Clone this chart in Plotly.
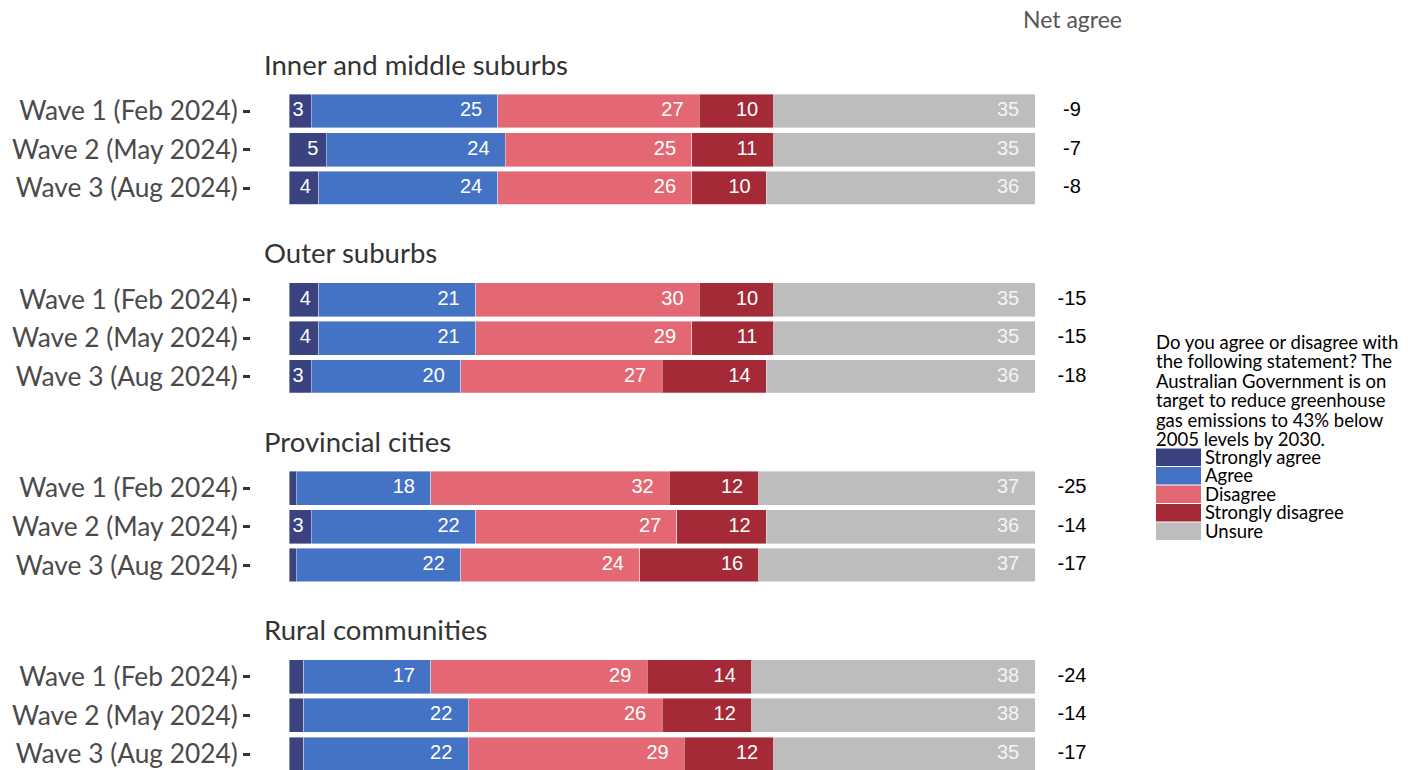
import plotly.graph_objects as go
from plotly.subplots import make_subplots

# ---------------- data ----------------
regions = ["Inner and middle suburbs", "Outer suburbs", "Provincial cities", "Rural communities"]
waves = ["Wave 1 (Feb 2024)", "Wave 2 (May 2024)", "Wave 3 (Aug 2024)"]
responses = ["Strongly agree", "Agree", "Disagree", "Strongly disagree", "Unsure"]

strongly_agree = [[3, 5, 4], [4, 4, 3], [1, 3, 1], [2, 2, 2]]
agree = [[25, 24, 24], [21, 21, 20], [18, 22, 22], [17, 22, 22]]
disagree = [[27, 25, 26], [30, 29, 27], [32, 27, 24], [29, 26, 29]]
strongly_disagree = [[10, 11, 10], [10, 11, 14], [12, 12, 16], [14, 12, 12]]
unsure = [[35, 35, 36], [35, 35, 36], [37, 36, 37], [38, 38, 35]]

legend_title = ["Do you agree or disagree with", "the following statement? The",
                "Australian Government is on", "target to reduce greenhouse",
                "gas emissions to 43% below", "2005 levels by 2030."]

# ---------------- style ----------------
colors = ["#3a4380", "#4472c4", "#e46874", "#a52a37", "#bdbdbd"]
label_colors = ["white", "white", "white", "white", "#f4f4f4"]
W, H = 1413, 770
OFF = 8  # page body margin offset
SANS = "Lato, 'Open Sans', sans-serif"
NUM = "'Liberation Sans', Arial, sans-serif"


def px_x(v):
    return (v - OFF) / W


def px_y(v):
    return 1 - (v - OFF) / H


series = [strongly_agree, agree, disagree, strongly_disagree, unsure]

fig = make_subplots(rows=4, cols=1)

row_pitch = 38.6
facet_pitch = 188.6
first_center = 111
px_per_unit_x = 7.46
bar_left_px = 289
x_dom_left, x_dom_right = 251, 1130
x_range = [-(bar_left_px - x_dom_left) / px_per_unit_x, (x_dom_right - bar_left_px) / px_per_unit_x]
net_x = (1072 - bar_left_px) / px_per_unit_x

for k, region in enumerate(regions):
    r = k + 1
    for j, resp in enumerate(responses):
        fig.add_trace(go.Bar(
            x=series[j][k], y=waves, orientation="h", name=resp,
            marker=dict(color=colors[j], line=dict(color="white", width=0.4)),
            width=0.88, showlegend=False, hoverinfo="x+name",
        ), row=r, col=1)

    # segment labels (right side of each segment)
    lx, ly, lt, lc = [], [], [], []
    for i, w in enumerate(waves):
        cum = 0
        for j in range(len(responses)):
            v = series[j][k][i]
            cum += v
            if v >= 3:
                s = str(v)
                lx.append(cum - 1.8 * len(s))
                ly.append(w)
                lt.append(s)
                lc.append(label_colors[j])
    fig.add_trace(go.Scatter(
        x=lx, y=ly, text=lt, mode="text", textposition="middle center",
        textfont=dict(family=NUM, size=20, color=lc), showlegend=False, hoverinfo="skip",
    ), row=r, col=1)

    # net agree
    net = [strongly_agree[k][i] + agree[k][i] - disagree[k][i] - strongly_disagree[k][i]
           for i in range(len(waves))]
    fig.add_trace(go.Scatter(
        x=[net_x] * len(waves), y=waves, text=[str(n) for n in net], mode="text",
        textposition="middle center", textfont=dict(family=NUM, size=20, color="black"),
        showlegend=False, hoverinfo="skip",
    ), row=r, col=1)

    c0 = first_center + facet_pitch * k
    top = c0 - 27
    bottom = c0 + 2 * row_pitch + 16
    ysuffix = "" if r == 1 else str(r)
    fig.layout["yaxis" + ysuffix].update(
        domain=[max(0, px_y(bottom)), min(1, px_y(top))],
        range=[2 + 16 / row_pitch, -27 / row_pitch],
        type="category", categoryorder="array", categoryarray=waves,
        showgrid=False, zeroline=False, showline=False,
        ticks="outside", ticklen=7, tickwidth=2.5, tickcolor="#333333",
        tickfont=dict(family=SANS, size=26.3, color="#4a4a4a"),
        automargin=False, fixedrange=True,
    )
    fig.layout["xaxis" + ysuffix].update(
        domain=[px_x(x_dom_left), px_x(x_dom_right)], range=x_range,
        showgrid=False, zeroline=False, showline=False, showticklabels=False,
        ticks="", automargin=False, fixedrange=True,
    )
    fig.add_annotation(
        text=region, xref="paper", yref="paper", x=px_x(262), y=px_y(c0 - 47),
        xanchor="left", yanchor="middle", showarrow=False,
        font=dict(family=SANS, size=27.5, color="#333333"),
    )

fig.add_annotation(
    text="Net agree", xref="paper", yref="paper", x=px_x(1072), y=px_y(19),
    xanchor="center", yanchor="middle", showarrow=False, borderpad=0,
    font=dict(family=SANS, size=23, color="#555555"),
)

# custom legend
title_y0, title_step = 342, 19.4
for i, line in enumerate(legend_title):
    fig.add_annotation(
        text=line, xref="paper", yref="paper", x=px_x(1155), y=px_y(title_y0 + i * title_step),
        xanchor="left", yanchor="middle", showarrow=False, borderpad=0,
        font=dict(family=SANS, size=18.5, color="black"),
    )
sw_top0, sw_step = 448, 18.5
for j, resp in enumerate(responses):
    t = sw_top0 + j * sw_step
    fig.add_shape(type="rect", xref="paper", yref="paper",
                  x0=px_x(1156), x1=px_x(1201), y0=px_y(t + sw_step - 0.5), y1=px_y(t + 0.5),
                  fillcolor=colors[j], line=dict(width=0))
    fig.add_annotation(
        text=resp, xref="paper", yref="paper", x=px_x(1204), y=px_y(t + sw_step / 2 - 0.5),
        xanchor="left", yanchor="middle", showarrow=False, borderpad=0,
        font=dict(family=SANS, size=18.5, color="black"),
    )

fig.update_layout(
    width=W, height=H, margin=dict(l=0, r=0, t=0, b=0),
    barmode="stack", bargap=0.12,
    plot_bgcolor="white", paper_bgcolor="white",
    showlegend=False,
)

fig.write_html("out.html")
